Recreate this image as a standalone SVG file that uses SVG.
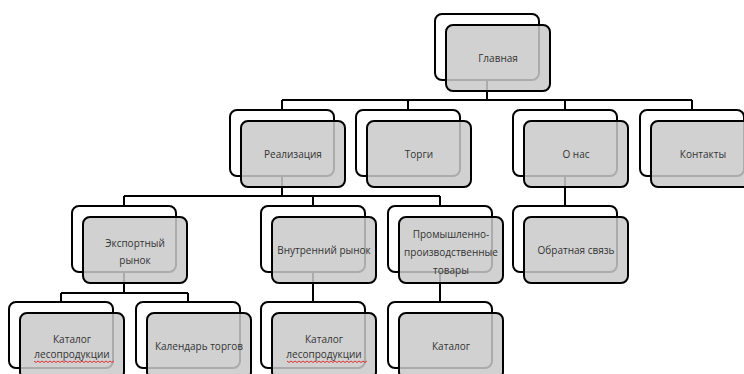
<svg xmlns="http://www.w3.org/2000/svg" width="744" height="374" viewBox="0 0 744 374">
<style>
.bk{fill:#ffffff;stroke:#000000;stroke-width:2}
.fr{fill:#c9c9c9;fill-opacity:0.85;stroke:#000000;stroke-width:2}
.t{font-family:"Open Sans","Liberation Sans",sans-serif;font-size:10px;fill:#333333;text-anchor:middle}
.c{fill:none;stroke:#000000;stroke-width:2}
.sq{fill:none;stroke:#e03030;stroke-width:1}
</style>
<rect width="744" height="374" fill="#ffffff"/>
<g id="connectors">
<path class="c" d="M487 80 V100 M282 100 H692 M282 100 V110 M408 100 V110 M565 100 V110 M692 100 V110"/>
<path class="c" d="M282 176 V196 M124 196 H440 M124 196 V206 M313 196 V206 M440 196 V206"/>
<path class="c" d="M565 176 V206"/>
<path class="c" d="M124 272 V293 M61 293 H188 M61 293 V302 M188 293 V302"/>
<path class="c" d="M313 272 V302"/>
<path class="c" d="M440 272 V302"/>
</g>
<g id="n-glavnaya">
<rect class="bk" x="435" y="14" width="104" height="66" rx="7"/>
<rect class="fr" x="446" y="25" width="104" height="66" rx="7"/>
<text class="t" x="498" y="61.5">Главная</text>
</g>
<g id="n-realizaciya">
<rect class="bk" x="230" y="110" width="104" height="66" rx="7"/>
<rect class="fr" x="241" y="121" width="104" height="66" rx="7"/>
<text class="t" x="293" y="157.5">Реализация</text>
</g>
<g id="n-torgi">
<rect class="bk" x="356" y="110" width="104" height="66" rx="7"/>
<rect class="fr" x="367" y="121" width="104" height="66" rx="7"/>
<text class="t" x="419" y="157.5">Торги</text>
</g>
<g id="n-onas">
<rect class="bk" x="513" y="110" width="104" height="66" rx="7"/>
<rect class="fr" x="524" y="121" width="104" height="66" rx="7"/>
<text class="t" x="576" y="157.5">О нас</text>
</g>
<g id="n-kontakty">
<rect class="bk" x="640" y="110" width="104" height="66" rx="7"/>
<rect class="fr" x="651" y="121" width="104" height="66" rx="7"/>
<text class="t" x="703" y="157.5">Контакты</text>
</g>
<g id="n-eksport">
<rect class="bk" x="72" y="206" width="104" height="66" rx="7"/>
<rect class="fr" x="83" y="217" width="104" height="66" rx="7"/>
<text class="t" x="135" y="246.5">Экспортный</text>
<text class="t" x="135" y="263.5">рынок</text>
</g>
<g id="n-vnutr">
<rect class="bk" x="261" y="206" width="104" height="66" rx="7"/>
<rect class="fr" x="272" y="217" width="104" height="66" rx="7"/>
<text class="t" x="324" y="253.5">Внутренний рынок</text>
</g>
<g id="n-prom">
<rect class="bk" x="388" y="206" width="104" height="66" rx="7"/>
<rect class="fr" x="399" y="217" width="104" height="66" rx="7"/>
<text class="t" x="451" y="237.5">Промышленно-</text>
<text class="t" x="451" y="255.5">производственные</text>
<text class="t" x="451" y="273.5">товары</text>
</g>
<g id="n-obratnaya">
<rect class="bk" x="513" y="206" width="104" height="66" rx="7"/>
<rect class="fr" x="524" y="217" width="104" height="66" rx="7"/>
<text class="t" x="576" y="253.5">Обратная связь</text>
</g>
<g id="n-katalog1">
<rect class="bk" x="9" y="302" width="104" height="66" rx="7"/>
<rect class="fr" x="20" y="313" width="104" height="66" rx="7"/>
<text class="t" x="72" y="342.5">Каталог</text>
<text class="t" x="72" y="358">лесопродукции</text>
<path class="sq" d="M34 361 l2 1.5 l2 -1.5 l2 1.5 l2 -1.5 l2 1.5 l2 -1.5 l2 1.5 l2 -1.5 l2 1.5 l2 -1.5 l2 1.5 l2 -1.5 l2 1.5 l2 -1.5 l2 1.5 l2 -1.5 l2 1.5 l2 -1.5 l2 1.5 l2 -1.5 l2 1.5 l2 -1.5 l2 1.5 l2 -1.5 l2 1.5 l2 -1.5 l2 1.5 l2 -1.5 l2 1.5 l2 -1.5 l2 1.5 l2 -1.5 l2 1.5 l2 -1.5 l2 1.5 l2 -1.5 l2 1.5 l2 -1.5 l2 1.5 l2 -1.5"/>
</g>
<g id="n-kalendar">
<rect class="bk" x="136" y="302" width="104" height="66" rx="7"/>
<rect class="fr" x="147" y="313" width="104" height="66" rx="7"/>
<text class="t" x="199" y="349.5">Календарь торгов</text>
</g>
<g id="n-katalog2">
<rect class="bk" x="261" y="302" width="104" height="66" rx="7"/>
<rect class="fr" x="272" y="313" width="104" height="66" rx="7"/>
<text class="t" x="324" y="342.5">Каталог</text>
<text class="t" x="324" y="358">лесопродукции</text>
<path class="sq" d="M287 361 l2 1.5 l2 -1.5 l2 1.5 l2 -1.5 l2 1.5 l2 -1.5 l2 1.5 l2 -1.5 l2 1.5 l2 -1.5 l2 1.5 l2 -1.5 l2 1.5 l2 -1.5 l2 1.5 l2 -1.5 l2 1.5 l2 -1.5 l2 1.5 l2 -1.5 l2 1.5 l2 -1.5 l2 1.5 l2 -1.5 l2 1.5 l2 -1.5 l2 1.5 l2 -1.5 l2 1.5 l2 -1.5 l2 1.5 l2 -1.5 l2 1.5 l2 -1.5 l2 1.5 l2 -1.5 l2 1.5 l2 -1.5 l2 1.5 l2 -1.5"/>
</g>
<g id="n-katalog3">
<rect class="bk" x="388" y="302" width="104" height="66" rx="7"/>
<rect class="fr" x="399" y="313" width="104" height="66" rx="7"/>
<text class="t" x="451" y="349.5">Каталог</text>
</g>
</svg>
